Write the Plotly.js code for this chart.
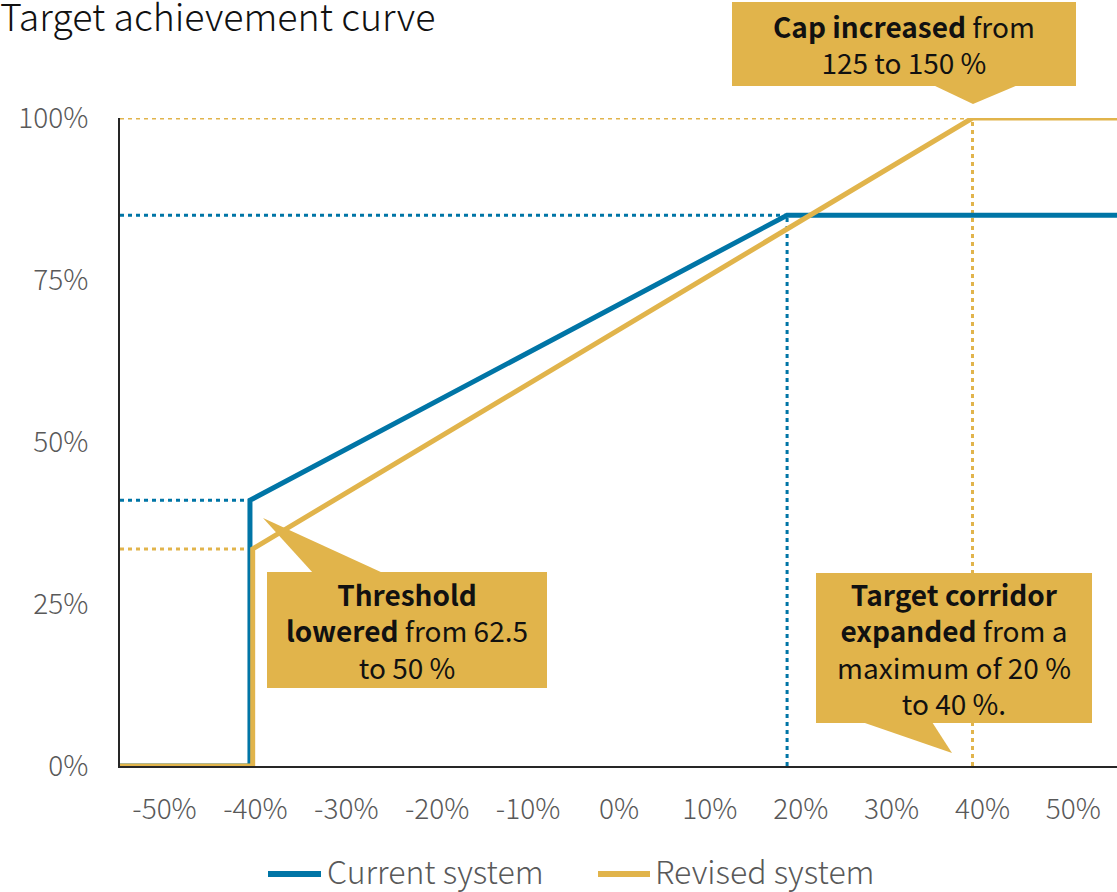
<!DOCTYPE html>
<html>
<head>
<meta charset="utf-8">
<script src="https://cdn.plot.ly/plotly-3.0.1.min.js"></script>
<style>html,body{margin:0;padding:0;background:#fff;}#chart{width:1117px;height:892px;}</style>
</head>
<body>
<div id="chart"></div>
<script>
// ---- Data ----
const seriesNames = ["Current system", "Revised system"];
const xTickVals = [-50, -40, -30, -20, -10, 0, 10, 20, 30, 40, 50];
const xTickText = ["-50%", "-40%", "-30%", "-20%", "-10%", "0%", "10%", "20%", "30%", "40%", "50%"];
const yTickVals = [0, 25, 50, 75, 100];
const yTickText = ["0%", "25%", "50%", "75%", "100%"];
// x = deviation from target (%), y = target achievement (%)
const xCurrent = [-54.9, -40.6, -40.6, 18.5, 54.8];
const yCurrent = [0, 0, 41, 85, 85];
const xRevised = [-54.9, -40.3, -40.3, 38.9, 54.8];
const yRevised = [0, 0, 33.5, 100, 100];
const calloutTexts = [
  "<b>Cap increased</b> from<br>125 to 150 %",
  "<b>Threshold</b><br><b>lowered</b> from 62.5<br>to 50 %",
  "<b>Target corridor</b><br><b>expanded</b> from a<br>maximum of 20 %<br>to 40 %."
];

// ---- Styling ----
const BLUE = "#0075A6";
const GOLD = "#E1B44B";
const FONT = "'Noto Sans CJK JP', 'Noto Sans', sans-serif";
const M = {l: 120, r: 0, t: 118, b: 126};
const W = 1117, H = 892;
const PW = W - M.l - M.r, PH = H - M.t - M.b;
const px = x => (x - M.l) / PW;
const py = y => (H - M.b - y) / PH;
const X0 = -54.9, X1 = 54.8;

function guide(xs, ys, color) {
  return {x: xs, y: ys, type: "scatter", mode: "lines", showlegend: false, hoverinfo: "skip",
    line: {color: color, width: 3, dash: "4px,4px"}};
}

const traces = [
  guide([X0, xCurrent[2]], [yCurrent[2], yCurrent[2]], BLUE),
  guide([X0, xCurrent[3]], [yCurrent[3], yCurrent[3]], BLUE),
  guide([xCurrent[3], xCurrent[3]], [0, yCurrent[3]], BLUE),
  guide([X0, xRevised[2]], [yRevised[2], yRevised[2]], GOLD),
  guide([X0, xRevised[3]], [yRevised[3], yRevised[3]], GOLD),
  guide([xRevised[3], xRevised[3]], [0, yRevised[3]], GOLD),
  {x: xCurrent, y: yCurrent, name: seriesNames[0], type: "scatter", mode: "lines",
   line: {color: BLUE, width: 5}, showlegend: false},
  {x: xRevised, y: yRevised, name: seriesNames[1], type: "scatter", mode: "lines",
   line: {color: GOLD, width: 5}, showlegend: false}
];

function rect(x0, y0, x1, y1) {
  return {type: "rect", xref: "paper", yref: "paper", x0: px(x0), x1: px(x1), y0: py(y1), y1: py(y0),
    fillcolor: GOLD, line: {width: 0}, layer: "above"};
}
function tri(pts) {
  const d = "M " + pts.map(p => px(p[0]) + "," + py(p[1])).join(" L ") + " Z";
  return {type: "path", xref: "paper", yref: "paper", path: d, fillcolor: GOLD, line: {width: 0}, layer: "above"};
}
// legend built from the series names/colours
const legendItems = [
  {name: seriesNames[0], color: BLUE, x0: 268, x1: 321, tx: 325},
  {name: seriesNames[1], color: GOLD, x0: 598, x1: 650, tx: 653}
];
const LEGY = 874;
const shapes = [
  rect(732, 2, 1076, 86), tri([[933, 85], [1018, 85], [973, 104]]),
  rect(267, 572, 547, 688), tri([[263, 518], [313, 573], [383, 573]]),
  rect(816, 573, 1092, 723), tri([[862, 722], [932, 722], [952, 753]])
];
legendItems.forEach(it => shapes.push({type: "line", xref: "paper", yref: "paper",
  x0: px(it.x0), x1: px(it.x1), y0: py(LEGY), y1: py(LEGY), line: {color: it.color, width: 6}, layer: "above"}));

function note(text, cx, cy) {
  return {text: text, xref: "paper", yref: "paper", x: px(cx), y: py(cy), xanchor: "center", yanchor: "middle",
    showarrow: false, align: "center", font: {family: FONT, size: 28, color: "#111111"}};
}
const annotations = [
  note(calloutTexts[0], 904, 44),
  note(calloutTexts[1], 407, 630),
  note(calloutTexts[2], 954, 648)
];
legendItems.forEach(it => annotations.push({text: it.name, xref: "paper", yref: "paper",
  x: px(it.tx), y: py(LEGY - 4), xanchor: "left", yanchor: "middle", showarrow: false,
  font: {family: FONT, size: 32, color: "#595959", weight: 300}}));

const layout = {
  width: W, height: H, margin: M,
  paper_bgcolor: "#ffffff", plot_bgcolor: "#ffffff",
  font: {family: FONT, color: "#595959"},
  title: {text: "Target achievement curve", xref: "container", yref: "container", x: 0, xanchor: "left",
    y: 1 - 18 / H, yanchor: "middle", font: {family: FONT, size: 37.5, color: "#111111", weight: 300}, pad: {l: 0}},
  xaxis: {range: [X0, X1], tickvals: xTickVals, ticktext: xTickText, showgrid: false, zeroline: false,
    showline: true, linecolor: "#262626", linewidth: 2, ticks: "", ticklabelstandoff: 17,
    tickfont: {family: FONT, size: 28, color: "#595959", weight: 300}, fixedrange: true},
  yaxis: {range: [0, 100], tickvals: yTickVals, ticktext: yTickText, showgrid: false, zeroline: false,
    showline: true, linecolor: "#262626", linewidth: 2, ticks: "", ticklabelstandoff: 24,
    tickfont: {family: FONT, size: 28, color: "#595959", weight: 300}, fixedrange: true},
  showlegend: false,
  shapes: shapes,
  annotations: annotations
};

Plotly.newPlot("chart", traces, layout, {displayModeBar: false, staticPlot: true});
</script>
</body>
</html>
